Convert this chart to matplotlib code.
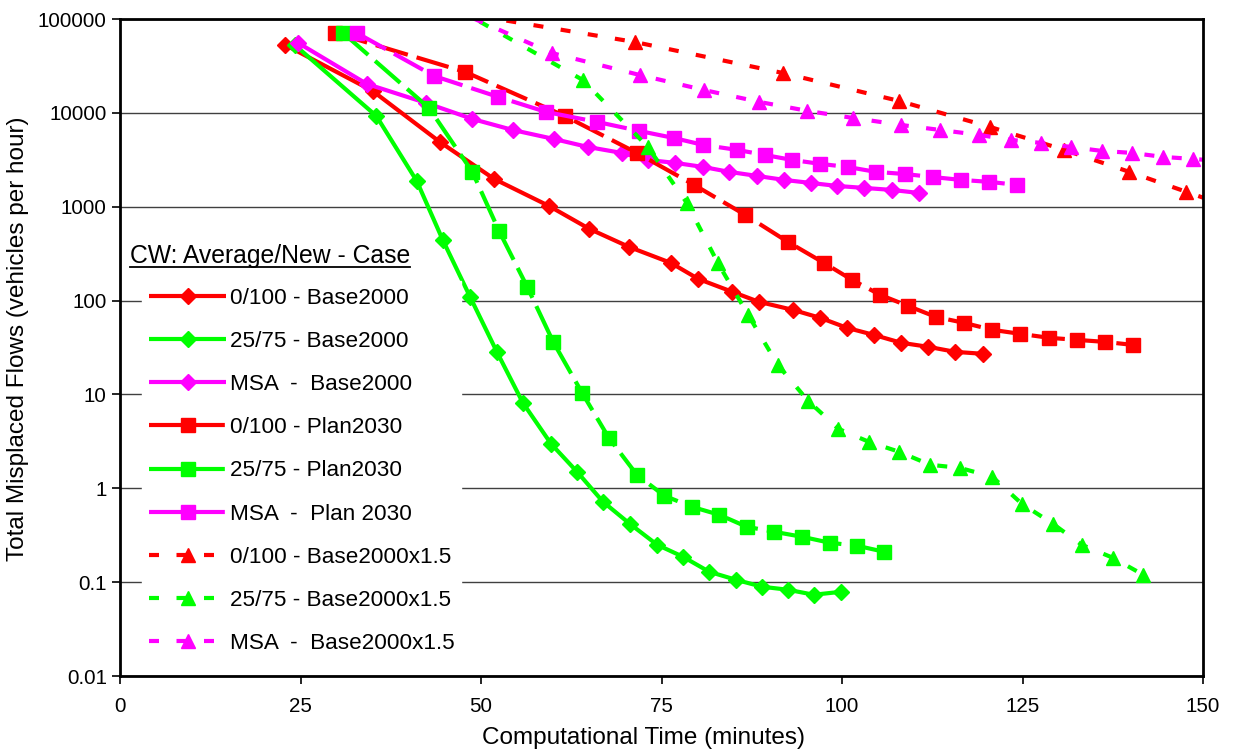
import matplotlib
matplotlib.use("Agg")
import matplotlib.pyplot as plt
from matplotlib import ticker
from matplotlib.lines import Line2D

plt.rcParams["font.family"] = ["Liberation Sans", "DejaVu Sans"]

RED = "#FF0000"
GREEN = "#00FF00"
MAGENTA = "#FF00FF"

# 0/100 - Base2000
t_red_base = [22.9, 35.0, 44.3, 51.8, 59.4, 65.0, 70.5, 76.3, 80.1, 84.8, 88.5,
              93.2, 97.0, 100.7, 104.4, 108.2, 111.9, 115.7, 119.5]
f_red_base = [52900, 17100, 4900, 1980, 1020, 581, 373, 252, 170, 124, 96.9,
              79.6, 65.4, 51.2, 43.1, 35.5, 32.2, 28.4, 27.1]

# 25/75 - Base2000
t_green_base = [24.2, 35.5, 41.1, 44.7, 48.5, 52.2, 55.8, 59.7, 63.3, 66.9, 70.6,
                74.4, 78.0, 81.6, 85.3, 88.9, 92.5, 96.1, 99.9]
f_green_base = [52900, 9270, 1880, 443, 109, 28.4, 8.14, 2.98, 1.50, 0.718, 0.419,
                0.250, 0.186, 0.129, 0.106, 0.0894, 0.083, 0.0734, 0.079]

# MSA - Base2000
t_msa_base = [24.7, 34.2, 42.4, 48.8, 54.4, 60.1, 64.8, 69.5, 73.1, 76.9, 80.8,
              84.4, 88.2, 92.0, 95.7, 99.3, 103.1, 106.9, 110.7]
f_msa_base = [55500, 20300, 12750, 8610, 6570, 5270, 4330, 3740, 3150, 2930, 2650,
              2350, 2130, 1930, 1790, 1665, 1585, 1510, 1400]

# 0/100 - Plan2030
t_red_plan = [29.8, 47.8, 61.6, 71.6, 79.5, 86.6, 92.5, 97.5, 101.4, 105.3, 109.1,
              113.0, 116.9, 120.8, 124.7, 128.7, 132.6, 136.4, 140.3]
f_red_plan = [71000, 27300, 9270, 3740, 1710, 818, 422, 252, 166, 115, 87.9,
              67.0, 57.9, 48.8, 44.2, 40.1, 38.1, 36.3, 33.7]

# 25/75 - Plan2030
t_green_plan = [30.9, 42.8, 48.8, 52.5, 56.4, 60.0, 64.0, 67.7, 71.6, 75.4, 79.2,
                83.0, 86.8, 90.6, 94.5, 98.3, 102.1, 105.8]
f_green_plan = [71000, 11270, 2350, 552, 140, 36.3, 10.4, 3.45, 1.39, 0.832, 0.635,
                0.522, 0.389, 0.344, 0.304, 0.263, 0.244, 0.211]

# MSA - Plan 2030
t_msa_plan = [32.8, 43.5, 52.4, 59.0, 66.1, 71.9, 76.7, 80.8, 85.5, 89.3, 93.1,
              97.0, 100.8, 104.7, 108.7, 112.6, 116.5, 120.4, 124.2]
f_msa_plan = [71000, 24700, 14770, 10230, 8000, 6420, 5400, 4550, 4030, 3560, 3150,
              2860, 2650, 2350, 2230, 2070, 1930, 1840, 1710]

# 0/100 - Base2000x1.5
t_red_x15 = [46.0, 71.3, 91.8, 107.9, 120.5, 130.8, 139.8, 147.7, 154.8]
f_red_x15 = [120000, 56900, 26600, 13400, 7080, 4030, 2350, 1440, 930]

# 25/75 - Base2000x1.5
t_green_x15 = [46.5, 64.1, 73.1, 78.5, 82.8, 87.0, 91.1, 95.3, 99.5, 103.7, 107.9,
               112.2, 116.3, 120.8, 124.9, 129.2, 133.2, 137.5, 141.7]
f_green_x15 = [131000, 22400, 4340, 1100, 252, 70.4, 20.7, 8.55, 4.30, 3.13, 2.45,
               1.78, 1.65, 1.33, 0.684, 0.419, 0.250, 0.182, 0.120]

# MSA - Base2000x1.5
t_msa_x15 = [45.5, 59.8, 72.0, 80.9, 88.5, 95.2, 101.5, 108.2, 113.6, 119.0, 123.4,
             127.6, 131.7, 136.0, 140.2, 144.5, 148.6, 152.8]
f_msa_x15 = [133000, 43400, 25300, 17500, 13100, 10500, 8830, 7430, 6570, 5820, 5150,
             4780, 4330, 3930, 3740, 3390, 3230, 3050]

series = [
    (t_red_base, f_red_base, RED, "D", "solid", "0/100 - Base2000"),
    (t_green_base, f_green_base, GREEN, "D", "solid", "25/75 - Base2000"),
    (t_msa_base, f_msa_base, MAGENTA, "D", "solid", "MSA  -  Base2000"),
    (t_red_plan, f_red_plan, RED, "s", "long", "0/100 - Plan2030"),
    (t_green_plan, f_green_plan, GREEN, "s", "long", "25/75 - Plan2030"),
    (t_msa_plan, f_msa_plan, MAGENTA, "s", "long", "MSA  -  Plan 2030"),
    (t_red_x15, f_red_x15, RED, "^", "short", "0/100 - Base2000x1.5"),
    (t_green_x15, f_green_x15, GREEN, "^", "short", "25/75 - Base2000x1.5"),
    (t_msa_x15, f_msa_x15, MAGENTA, "^", "short", "MSA  -  Base2000x1.5"),
]

DASHES = {"long": (8, 2.2), "short": (2.4, 4.2)}
MSIZE = {"D": 8.0, "s": 9.5, "^": 10.0}

fig = plt.figure(figsize=(12.33, 7.52), dpi=100)
ax = fig.add_axes([120 / 1233, 1 - 676 / 752, (1203 - 120) / 1233, (676 - 19) / 752])

for t, f, color, marker, style, label in series:
    line, = ax.plot(t, f, color=color, marker=marker, markersize=MSIZE[marker],
                    markeredgecolor=color, markerfacecolor=color,
                    linewidth=3.0, label=label, solid_capstyle="butt",
                    dash_capstyle="butt")
    if style != "solid":
        line.set_dashes(DASHES[style])

ax.set_yscale("log")
ax.set_xlim(0, 150)
ax.set_ylim(0.01, 100000)
ax.set_xticks([0, 25, 50, 75, 100, 125, 150])
ax.yaxis.set_major_locator(ticker.LogLocator(base=10, numticks=10))
ax.yaxis.set_minor_locator(ticker.NullLocator())
ax.yaxis.set_major_formatter(ticker.FuncFormatter(lambda v, p: f"{v:g}" if v < 1 else f"{v:.0f}"))
ax.tick_params(axis="both", labelsize=14.8, direction="out", length=6, width=1.2)
ax.tick_params(axis="x", pad=9)
ax.grid(True, axis="y", color="#404040", linewidth=1.0)
ax.set_axisbelow(True)
for sp in ax.spines.values():
    sp.set_linewidth(2.0)
    sp.set_color("black")

ax.set_xlabel("Computational Time (minutes)", fontsize=17.5)
ax.set_ylabel("Total Misplaced Flows (vehicles per hour)", fontsize=17.5)
ax.xaxis.label.set_va("center")
ax.yaxis.label.set_va("center")
ax.xaxis.set_label_coords((644 - 120) / 1083, (676 - 738) / 657)
ax.yaxis.set_label_coords((18 - 120) / 1083, (676 - 339) / 657)

leg = ax.legend(loc="upper left", bbox_to_anchor=((142 - 120) / 1083, (676 - 281) / 657),
                borderaxespad=0, frameon=True, fancybox=False, framealpha=1.0,
                edgecolor="white", facecolor="white", fontsize=16.2,
                handlelength=3.45, handletextpad=0.15, labelspacing=0.985,
                borderpad=0.3, numpoints=1)

title = ax.text((130 - 120) / 1083, (676 - 256) / 657, "CW: Average/New - Case",
                transform=ax.transAxes, fontsize=17.8, ha="left", va="center")

fig.canvas.draw()
bb = title.get_window_extent()
inv = fig.transFigure.inverted()
x0, y0 = inv.transform((bb.x0, bb.y0 + 1))
x1, _ = inv.transform((bb.x1, bb.y0 + 1))
fig.add_artist(Line2D([x0, x1], [y0, y0], color="black", linewidth=1.3,
                      transform=fig.transFigure))

fig.savefig("out.png", dpi=100)
